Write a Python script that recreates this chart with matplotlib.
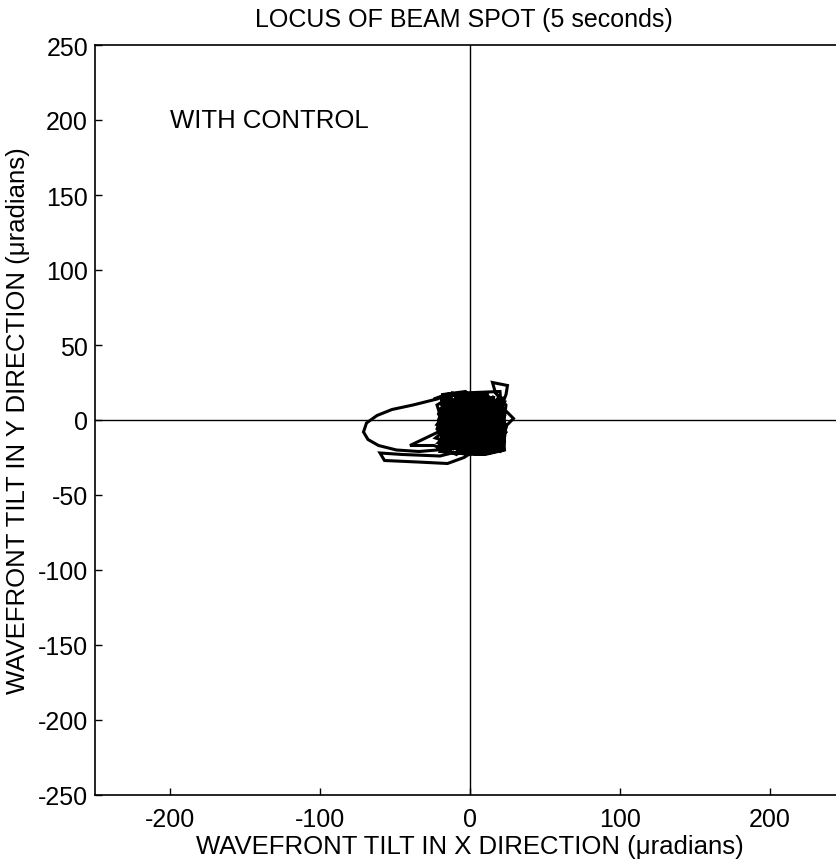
import matplotlib
matplotlib.use("Agg")
import matplotlib.pyplot as plt

plt.rcParams['font.family'] = ['Liberation Sans', 'DejaVu Sans']
plt.rcParams['axes.unicode_minus'] = False

title = "LOCUS OF BEAM SPOT (5 seconds)"
xlabel = "WAVEFRONT TILT IN X DIRECTION (\u03bcradians)"
ylabel = "WAVEFRONT TILT IN Y DIRECTION (\u03bcradians)"
annotation = "WITH CONTROL"
xticks = [-200, -100, 0, 100, 200]
yticks = [-250, -200, -150, -100, -50, 0, 50, 100, 150, 200, 250]

locus = [
    (-22, 14), (-38, 10), (-52, 7), (-62, 3), (-69, -2), (-71, -8), (-68, -13), (-61, -17),
    (-49, -20), (-34, -21), (-22, -20), (-10, -15), (5, -18), (18, -10), (22, 8), (10, 15),
    (-5, 12), (-18, 5), (-20, -8), (-8, -20), (12, -21), (23, -14), (20, 2), (15, 14), (0, 17),
    (-15, 16), (-21, 0), (-17, -17), (0, -22), (18, -19), (24, -5), (19, 12), (4, 18), (-12, 10),
    (-19, -12), (-5, -8), (8, 5), (2, -14), (-14, -3), (-6, 14), (14, 6), (21, -17), (6, -6),
    (-11, -19), (-22, -6), (-16, 12), (9, 16), (23, 3), (14, -13), (-3, -2), (-20, 8), (-9, -12),
    (16, -5), (11, 11), (-7, 6), (-1, -19), (20, -21), (24, 10), (17, 18), (15, 25), (25, 23),
    (24, 17), (21, 9), (29, 1), (24, -4), (22, -20), (7, -23), (-12, -22), (-20, -24), (-45, -23),
    (-60, -22), (-57, -27), (-35, -28), (-15, -29), (-4, -25), (10, -16), (-2, 6), (-13, -10),
    (3, 12), (19, -2), (-8, -4), (-18, 17), (-3, 19), (12, 0), (-10, -16), (6, -19), (18, -9),
    (7, 9), (-16, -2), (-21, -18), (-4, -13), (13, -22), (22, -12), (16, 4), (1, 1), (-13, 15),
    (-22, 10), (-17, -6), (-40, -17), (-24, -17), (-9, -23), (5, -10), (14, 15), (-6, 16),
    (-19, -14), (1, -5), (20, 16), (10, -3), (-11, 4), (-2, -16), (17, -16), (21, 14), (3, 3),
    (-14, -20), (-20, -2), (-8, 10), (11, 18), (24, -8), (9, -20), (-6, -10), (-17, 7), (5, 15),
    (22, -2), (4, -21), (-15, -8), (-3, 9), (15, -11), (8, 13), (-12, 18), (-21, 4), (-8, -19),
    (12, -7), (18, 6), (-1, 14), (-18, -10), (0, -12), (19, -18), (13, 9), (-10, 0), (-4, -22),
    (21, -10), (6, 17), (-15, 9), (-11, -13), (8, -2), (16, 16), (2, -18), (-19, 15), (-24, 14),
    (-16, 17), (-5, 18), (20, 19), (23, -20), (10, -23), (-20, -21), (-12, 6), (4, 8), (17, -4),
    (-7, -17), (-23, -12), (-6, 2), (14, -18), (11, 4), (-2, 11), (-14, -15), (9, -13), (23, 12),
    (-9, 15), (-22, -3), (-3, -7), (15, 0), (0, -23), (-16, -21), (7, -8), (20, 4), (-5, 5),
    (-17, 13), (5, 0), (-13, -4), (2, 10), (18, -14), (7, 3), (-9, -8), (-1, 16), (13, -9),
    (-20, 12), (-6, -14), (10, 7), (21, 0), (3, -9), (-15, 2), (-2, -20), (16, 10), (8, -17),
    (-11, 12), (-18, -4), (4, 5), (19, -12), (-4, 3), (-12, -17), (12, 13), (-7, -1), (22, 6),
    (1, -13), (-16, 5), (9, 1), (-3, -11), (14, -20), (-10, 9), (6, 12), (-19, -9), (17, -7),
    (-1, 8), (-14, 11), (11, -12), (2, -3), (-8, 13), (20, -15), (-5, -15), (-21, -15), (7, 15),
    (15, -2), (-13, 1), (0, 4), (10, -9), (-6, 17), (-17, -13), (4, -16), (13, 2), (-9, 5),
    (18, 13), (-2, -9), (-20, 16), (-11, -7), (6, 10), (22, -6), (-4, 12), (9, -5), (-15, -18),
    (3, 15), (-7, -6), (14, -15), (-18, 1), (1, -21), (12, 16), (-12, -1), (19, 8), (-3, 0),
    (8, -11), (-16, -11), (5, 6), (-10, 16), (17, 1), (-5, -18), (11, -19), (-1, 10), (-21, 7),
    (16, -8), (-8, 2), (4, -6), (-14, 6), (10, 10), (2, -10), (20, -3), (-6, 8), (-19, -20),
    (7, -14), (-2, 2),
]
locus_x = [p[0] for p in locus]
locus_y = [p[1] for p in locus]

fig = plt.figure(figsize=(8.37, 8.62), dpi=100)
ax = fig.add_axes([95 / 837, 66 / 862, 750 / 837, 750 / 862])

ax.plot(locus_x, locus_y, color='black', lw=2.2, solid_joinstyle='miter')
ax.axhline(0, color='black', lw=1.0)
ax.axvline(0, color='black', lw=1.0)

ax.set_xlim(-250, 250)
ax.set_ylim(-250, 250)
ax.set_xticks(xticks)
ax.set_yticks(yticks)
ax.tick_params(direction='in', length=5, width=1, labelsize=18, right=False, top=False)
ax.tick_params(axis='x', pad=9)
ax.tick_params(axis='y', pad=5)
ax.set_frame_on(False)
# frame: left, bottom and top edges only (right edge lies outside the picture)
ax.axvline(-250, color='black', lw=1.2, clip_on=False)
ax.axhline(-250, color='black', lw=1.2, clip_on=False)
ax.axhline(250, color='black', lw=1.2, clip_on=False)

ax.text(-200, 200, annotation, fontsize=18.5, ha='left', va='center')
fig.text(464 / 837, 1 - 27 / 862, title, fontsize=18, ha='center', va='baseline')
fig.text(470 / 837, 1 - 854 / 862, xlabel, fontsize=18.5, ha='center', va='baseline')
fig.text(18 / 837, 1 - 421 / 862, ylabel, fontsize=18.5, ha='center', va='center', rotation=90)

fig.savefig("out.png", dpi=100)
